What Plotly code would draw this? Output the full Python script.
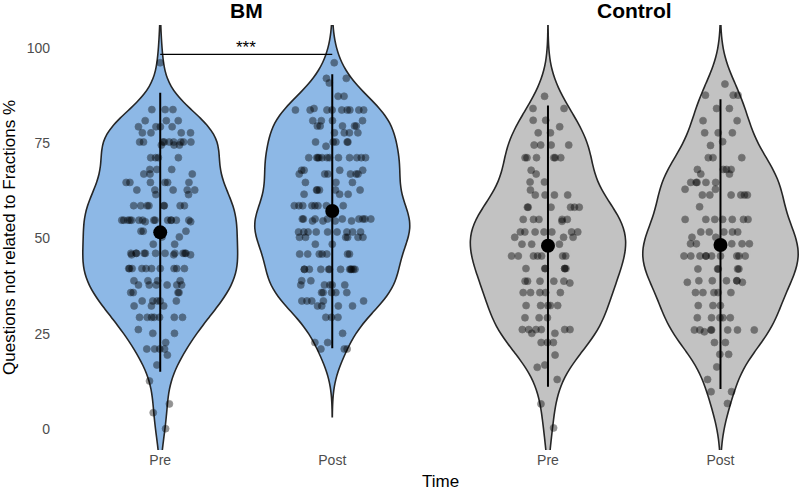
"""
plot.py - pre/post violin plots for the BM and Control groups.
"""

import numpy as np
import plotly.graph_objects as go

# ---------------------------------------------------------------------------
# Data: score level -> number of dots at that level
# ---------------------------------------------------------------------------

times = ["Pre", "Post"]

bm_pre_y = [96.1, 83.8, 80.9, 79.3, 77.7, 75.3, 74.5, 71.2, 68.1, 66.9, 64.7, 62.7,
            61.5, 58.6, 54.8, 54.4, 51.9, 50.4, 48.5, 46.1, 45.7, 42.1, 38.9, 37.8,
            35.8, 33.6, 32.3, 29.3, 26.1, 25.1, 22.7, 21.0, 19.4, 16.8, 12.6, 6.6,
            4.3, 0.1]
bm_pre_n = [1, 3, 3, 4, 4, 9, 3, 4, 3, 3, 6, 5,
            2, 8, 14, 2, 3, 2, 2, 11, 3, 10, 4, 6,
            4, 5, 3, 7, 1, 2, 1, 4, 1, 1, 1, 1,
            1, 1]

bm_post_y = [96.1, 92.0, 90.8, 87.3, 84.1, 83.7, 80.9, 79.5, 77.7, 75.3, 74.2, 71.2,
             67.9, 66.9, 64.7, 62.7, 61.6, 58.6, 55.1, 54.6, 51.7, 50.3, 48.5, 45.9,
             41.9, 38.9, 37.8, 35.8, 33.6, 32.3, 29.3, 25.1, 22.7, 21.0]
bm_post_n = [1, 2, 1, 2, 1, 9, 4, 5, 4, 5, 1, 12,
             4, 6, 3, 5, 3, 8, 9, 4, 9, 6, 2, 7,
             12, 2, 5, 5, 5, 4, 3, 1, 2, 3]

ctrl_pre_y = [87.3, 84.1, 81.0, 79.3, 77.7, 74.5, 71.2, 67.9, 66.9, 64.8, 62.7, 61.4,
              58.2, 55.0, 54.5, 51.7, 50.3, 48.5, 45.4, 42.1, 38.8, 38.3, 35.8, 32.4,
              29.2, 26.1, 25.1, 22.7, 19.4, 16.8, 16.2, 13.0, 6.6, 0.3]
ctrl_pre_n = [1, 2, 2, 1, 2, 4, 6, 1, 1, 2, 1, 4,
              6, 5, 1, 7, 3, 4, 7, 6, 5, 1, 5, 5,
              3, 6, 2, 3, 1, 1, 1, 1, 1, 1]

ctrl_post_y = [90.5, 87.6, 84.1, 80.9, 77.7, 75.4, 74.4, 71.2, 68.1, 66.9, 64.7, 62.9,
               61.4, 58.3, 55.0, 51.7, 50.3, 48.6, 45.4, 42.0, 38.9, 38.5, 35.8, 32.4,
               29.2, 26.0, 25.5, 22.7, 19.6, 16.3, 13.0, 9.8, 6.7]
ctrl_post_n = [1, 3, 2, 2, 3, 1, 1, 3, 4, 2, 5, 2,
               6, 1, 7, 5, 2, 5, 10, 5, 5, 2, 5, 3,
               5, 7, 1, 2, 2, 1, 1, 2, 1]

# group mean and the ends of the vertical range line
bm_mean = [51.6, 57.2]
bm_low = [15.0, 21.2]
bm_high = [88.2, 93.1]
ctrl_mean = [48.1, 48.3]
ctrl_low = [11.1, 10.5]
ctrl_high = [84.9, 86.5]

sig_level = 98.3
sig_label = "***"

FONT = "Liberation Sans, Arial, sans-serif"
BLUE = "#8DB8E6"
GREY = "#C2C2C2"


def _bw_nrd0(v: np.ndarray) -> float:
    """Silverman rule of thumb, same as R's bw.nrd0."""
    q75, q25 = np.percentile(v, [75, 25])
    return 0.9 * min(v.std(ddof=1), (q75 - q25) / 1.34) * len(v) ** -0.2


def _violin(levels, counts, time, fill, xa, ya) -> go.Violin:
    v = np.repeat(np.asarray(levels, float), counts)
    bw = _bw_nrd0(v)
    return go.Violin(
        x=[time] * len(v),
        y=v,
        xaxis=xa,
        yaxis=ya,
        width=0.9,
        bandwidth=bw,
        spanmode="manual",
        span=[v.min() - 3 * bw, v.max() + 3 * bw],
        fillcolor=fill,
        line=dict(color="#262626", width=1.6),
        points="all",
        pointpos=0,
        jitter=0.5,
        marker=dict(color="black", size=7, opacity=0.42,
                    line=dict(color="black", width=0.7)),
        box_visible=False,
        meanline_visible=False,
        showlegend=False,
        hoverinfo="skip",
    )


def _mean_range(mean, low, high, xa, ya) -> go.Scatter:
    return go.Scatter(
        x=times,
        y=mean,
        xaxis=xa,
        yaxis=ya,
        mode="markers",
        marker=dict(color="black", size=14),
        error_y=dict(
            type="data",
            symmetric=False,
            array=[h - m for h, m in zip(high, mean)],
            arrayminus=[m - lo for m, lo in zip(mean, low)],
            color="black",
            thickness=2,
            width=0,
        ),
        showlegend=False,
        hoverinfo="skip",
    )


fig = go.Figure()

fig.add_trace(_violin(bm_pre_y, bm_pre_n, "Pre", BLUE, "x", "y"))
fig.add_trace(_violin(bm_post_y, bm_post_n, "Post", BLUE, "x", "y"))
fig.add_trace(_violin(ctrl_pre_y, ctrl_pre_n, "Pre", GREY, "x2", "y2"))
fig.add_trace(_violin(ctrl_post_y, ctrl_post_n, "Post", GREY, "x2", "y2"))

fig.add_trace(_mean_range(bm_mean, bm_low, bm_high, "x", "y"))
fig.add_trace(_mean_range(ctrl_mean, ctrl_low, ctrl_high, "x2", "y2"))

# significance bracket between BM pre and post
fig.add_trace(go.Scatter(
    x=times, y=[sig_level, sig_level], xaxis="x", yaxis="y",
    mode="lines", line=dict(color="black", width=1.3),
    showlegend=False, hoverinfo="skip",
))

axis_common = dict(
    type="category",
    categoryorder="array",
    categoryarray=times,
    showgrid=False,
    zeroline=False,
    showline=False,
    ticks="",
    tickfont=dict(family=FONT, size=14, color="#4d4d4d"),
)
yaxis_common = dict(
    range=[-5.5, 106],
    tickvals=[0, 25, 50, 75, 100],
    showgrid=False,
    zeroline=False,
    showline=False,
    ticks="",
    tickfont=dict(family=FONT, size=14, color="#4d4d4d"),
)

fig.update_layout(
    width=800,
    height=490,
    margin=dict(l=57, r=0, t=25, b=40),
    paper_bgcolor="white",
    plot_bgcolor="white",
    violinmode="overlay",
    font=dict(family=FONT, color="black"),
    xaxis=dict(domain=[0, 0.5094], range=[-0.6, 1.6], anchor="y", **axis_common),
    xaxis2=dict(domain=[0.5215, 1], range=[-0.6, 1.461], anchor="y2", **axis_common),
    yaxis=dict(anchor="x", ticklabelstandoff=6, **yaxis_common),
    yaxis2=dict(anchor="x2", matches="y", showticklabels=False, **yaxis_common),
    annotations=[
        dict(text="<b>BM</b>", xref="paper", yref="paper", x=0.2547, y=1.033,
             xanchor="center", yanchor="middle", showarrow=False,
             font=dict(family=FONT, size=21, color="black")),
        dict(text="<b>Control</b>", xref="paper", yref="paper", x=0.7766, y=1.033,
             xanchor="center", yanchor="middle", showarrow=False,
             font=dict(family=FONT, size=21, color="black")),
        dict(text=sig_label, xref="x", yref="y", x=0.5, y=sig_level,
             xanchor="center", yanchor="bottom", showarrow=False, yshift=-5,
             font=dict(family=FONT, size=17, color="black")),
        dict(text="Time", xref="paper", yref="paper", x=0.5155, y=-0.073,
             xanchor="center", yanchor="middle", showarrow=False,
             font=dict(family=FONT, size=17, color="black")),
        dict(text="Questions not related to Fractions %", xref="paper", yref="paper",
             x=-0.064, y=0.5, textangle=-90, xanchor="center", yanchor="middle",
             showarrow=False, font=dict(family=FONT, size=17, color="black")),
    ],
)

# drop the browser's default 8px body margin so the figure fills the window
fig.write_html(
    "out.html",
    config={"displayModeBar": False},
    post_script="document.body.style.margin = '0';",
)
